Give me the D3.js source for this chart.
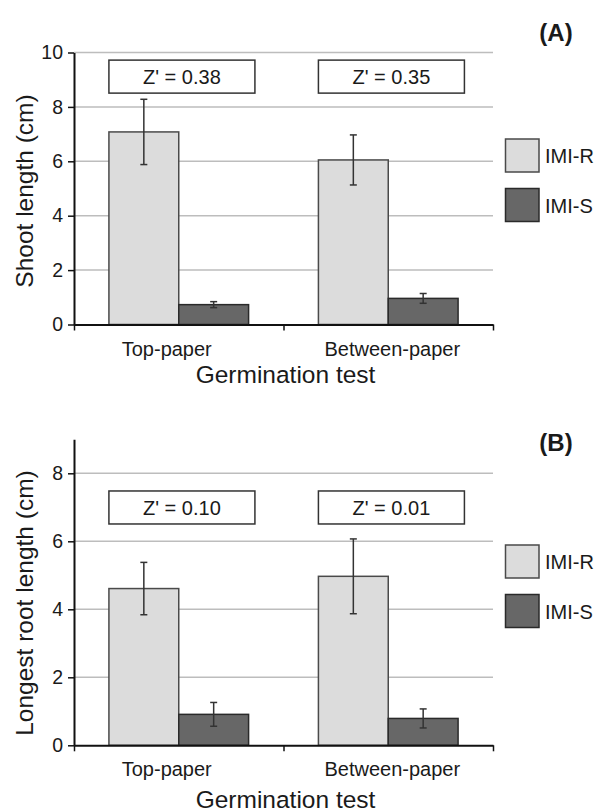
<!DOCTYPE html>
<html>
<head>
<meta charset="utf-8">
<script src="https://cdn.jsdelivr.net/npm/d3@7"></script>
<style>
  body { margin: 0; background: #fff; }
  text { font-family: Arial, 'Liberation Sans', sans-serif; fill: #1a1a1a; }
</style>
</head>
<body>
<script>
// categories and series
const groups = ['Top-paper', 'Between-paper'];
const series = ['IMI-R', 'IMI-S'];

// (A) shoot length, cm
const shootR = [7.08, 6.05];
const shootRErr = [1.2, 0.92];
const shootS = [0.73, 0.96];
const shootSErr = [0.11, 0.18];
const shootZ = ['0.38', '0.35'];
const shootTicks = [0, 2, 4, 6, 8, 10];

// (B) longest root length, cm
const rootR = [4.61, 4.97];
const rootRErr = [0.77, 1.1];
const rootS = [0.91, 0.79];
const rootSErr = [0.35, 0.28];
const rootZ = ['0.10', '0.01'];
const rootTicks = [0, 2, 4, 6, 8];

const colors = { 'IMI-R': '#dcdcdc', 'IMI-S': '#676767' };
const strokes = { 'IMI-R': '#4a4a4a', 'IMI-S': '#2a2a2a' };

const svg = d3.select('body').append('svg').attr('width', 596).attr('height', 812);

const left = 74, right = 493;
// small label nudges seen in the reference
const labelNudge = [-12, 4];

function panel(opt) {
  const g = svg.append('g');
  const y = d3.scaleLinear().domain([0, opt.max]).range([opt.y0, opt.y0 - opt.max * opt.unit]);
  const x0 = d3.scaleBand().domain(groups).range([left, right]);
  const x1 = d3.scaleBand().domain(series).range([0, x0.bandwidth()]).paddingOuter(0.5);

  // grid lines
  g.append('g')
    .selectAll('line')
    .data(opt.ticks.filter(d => d > 0))
    .join('line')
    .attr('x1', left).attr('x2', right)
    .attr('y1', d => y(d)).attr('y2', d => y(d))
    .attr('stroke', '#bdbdbd').attr('stroke-width', 1.5);

  // Z' boxes
  groups.forEach((grp, i) => {
    const bx = x0(grp) + x1('IMI-R');
    const by = y(opt.zTop);
    g.append('rect')
      .attr('x', bx).attr('y', by).attr('width', 146).attr('height', 33)
      .attr('fill', '#fff').attr('stroke', '#333').attr('stroke-width', 1.5);
    g.append('text')
      .attr('x', bx + 73).attr('y', by + 17).attr('dy', '0.35em')
      .attr('text-anchor', 'middle').style('font-size', '20px')
      .text("Z' = " + opt.z[i]);
  });

  // bars
  const rows = [];
  groups.forEach((grp, i) => {
    rows.push({ grp, s: 'IMI-R', v: opt.r[i], e: opt.rErr[i] });
    rows.push({ grp, s: 'IMI-S', v: opt.s[i], e: opt.sErr[i] });
  });
  g.append('g')
    .selectAll('rect')
    .data(rows)
    .join('rect')
    .attr('x', d => x0(d.grp) + x1(d.s))
    .attr('y', d => y(d.v))
    .attr('width', x1.bandwidth())
    .attr('height', d => y(0) - y(d.v))
    .attr('fill', d => colors[d.s])
    .attr('stroke', d => strokes[d.s])
    .attr('stroke-width', 1.5);

  // error bars
  const eb = g.append('g').attr('stroke', '#333').attr('stroke-width', 1.5);
  rows.forEach(d => {
    const cx = x0(d.grp) + x1(d.s) + x1.bandwidth() / 2;
    eb.append('line').attr('x1', cx).attr('x2', cx).attr('y1', y(d.v + d.e)).attr('y2', y(d.v - d.e));
    eb.append('line').attr('x1', cx - 3.5).attr('x2', cx + 3.5).attr('y1', y(d.v + d.e)).attr('y2', y(d.v + d.e));
    eb.append('line').attr('x1', cx - 3.5).attr('x2', cx + 3.5).attr('y1', y(d.v - d.e)).attr('y2', y(d.v - d.e));
  });

  // y axis
  const ya = g.append('g')
    .attr('transform', `translate(${left},0)`)
    .call(d3.axisLeft(y).tickValues(opt.ticks).tickSize(6).tickPadding(5).tickSizeOuter(0));
  ya.select('.domain').attr('stroke', '#111').attr('stroke-width', 2);
  ya.selectAll('.tick line').attr('stroke', '#111').attr('stroke-width', 1.5);
  ya.selectAll('.tick text').style('font-size', '19.5px').attr('font-family', null);

  // x axis with ticks on band edges
  const xl = d3.scaleLinear().domain([0, groups.length]).range([left, right]);
  const xa = g.append('g')
    .attr('transform', `translate(0,${y(0)})`)
    .call(d3.axisBottom(xl).tickValues(d3.range(groups.length + 1)).tickSize(6).tickSizeOuter(0).tickFormat(''));
  xa.select('.domain').attr('stroke', '#111').attr('stroke-width', 2);
  xa.selectAll('.tick line').attr('stroke', '#111').attr('stroke-width', 1.5);

  // category labels
  g.selectAll('.cat')
    .data(groups)
    .join('text')
    .attr('class', 'cat')
    .attr('x', (d, i) => x0(d) + x0.bandwidth() / 2 + labelNudge[i])
    .attr('y', y(0) + 31)
    .attr('text-anchor', 'middle')
    .style('font-size', '20px')
    .text(d => d);

  // axis titles
  g.append('text')
    .attr('x', (left + right) / 2 + 2)
    .attr('y', y(0) + opt.xTitleGap)
    .attr('text-anchor', 'middle')
    .style('font-size', '24.5px')
    .text('Germination test');

  g.append('text')
    .attr('transform', `translate(33,${opt.titleY}) rotate(-90)`)
    .attr('text-anchor', 'middle')
    .style('font-size', '24.5px')
    .text(opt.title);

  // legend
  series.forEach((s, i) => {
    const ly = opt.legendY + i * 49.5;
    g.append('rect')
      .attr('x', 505.5).attr('y', ly).attr('width', 33.5).attr('height', 33)
      .attr('fill', colors[s]).attr('stroke', strokes[s]).attr('stroke-width', 1.5);
    g.append('text')
      .attr('x', 545).attr('y', ly + 17).attr('dy', '0.35em')
      .style('font-size', '20px')
      .text(s);
  });

  // panel letter
  g.append('text')
    .attr('x', 556).attr('y', opt.letterY).attr('dy', '0.35em')
    .attr('text-anchor', 'middle')
    .style('font-size', '24px').style('font-weight', 'bold')
    .attr('fill', '#000')
    .text(opt.letter);
}

panel({
  y0: 324.5, unit: 27.2, max: 10, ticks: shootTicks,
  r: shootR, rErr: shootRErr, s: shootS, sErr: shootSErr,
  z: shootZ, zTop: 9.72,
  title: 'Shoot length (cm)', titleY: 191, xTitleGap: 58,
  legendY: 139, letter: '(A)', letterY: 33
});

panel({
  y0: 745.3, unit: 34, max: 9, ticks: rootTicks,
  r: rootR, rErr: rootRErr, s: rootS, sErr: rootSErr,
  z: rootZ, zTop: 7.48,
  title: 'Longest root length (cm)', titleY: 603, xTitleGap: 63,
  legendY: 545, letter: '(B)', letterY: 442.5
});
</script>
</body>
</html>
